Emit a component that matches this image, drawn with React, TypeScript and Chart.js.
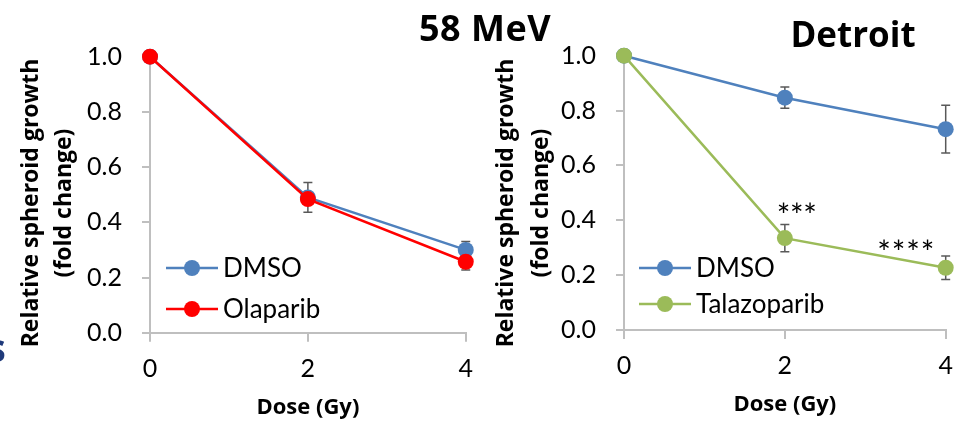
import React, { useEffect, useRef } from 'react';
import { Chart, registerables } from 'chart.js';

Chart.register(...registerables);

// ---- data ----
const doses = [0, 2, 4];
const yMin = 0;
const yMax = 1.0;
const yStep = 0.2;
const xStep = 2;

const leftDmso = [1.0, 0.49, 0.30];
const leftDmsoErr = [0, 0.054, 0.03];
const olaparib = [1.0, 0.484, 0.257];
const olaparibErr = [0, 0, 0.03];

const rightDmso = [1.0, 0.847, 0.732];
const rightDmsoErr = [0, 0.039, 0.087];
const talazoparib = [1.0, 0.335, 0.227];
const talazoparibErr = [0, 0.05, 0.043];
const talazoparibStars = ['', '***', '****'];

const yTitleLines = ['Relative spheroid growth', '(fold change)'];
const xTitle = 'Dose (Gy)';
const leftTitle = '58 MeV';
const rightTitle = 'Detroit';

const BLUE = '#4F81BD';
const RED = '#FF0000';
const GREEN = '#9BBB59';
const AXIS = '#BFBFBF';
const ERR = '#595959';
const BODY_FONT = 'Lato, "Open Sans", sans-serif';
const BOLD_FONT = '"Open Sans", Lato, sans-serif';

type PanelCfg = {
  width: number;
  height: number;
  area: { left: number; right: number; top: number; bottom: number };
  series: { label: string; data: number[]; err: number[]; color: string; stars?: string[]; starOffsets?: number[][] }[];
  yTitleX: number[];
  yTitleY: number;
  xTitleY: number;
  legend: { x1: number; x2: number; ys: number[] };
};

const annotPlugin = {
  id: 'annot',
  beforeDatasetsDraw(chart: any, _args: any, opts: any) {
    const cfg: PanelCfg = opts.cfg;
    const ctx = chart.ctx;
    const xs = chart.scales.x;
    const ys = chart.scales.y;
    ctx.save();
    ctx.strokeStyle = ERR;
    ctx.lineWidth = 1.5;
    cfg.series.forEach((s) => {
      s.data.forEach((v, i) => {
        const e = s.err[i];
        if (!e) return;
        const px = xs.getPixelForValue(doses[i]);
        const top = ys.getPixelForValue(v + e);
        const bot = ys.getPixelForValue(v - e);
        ctx.beginPath();
        ctx.moveTo(px, top);
        ctx.lineTo(px, bot);
        ctx.moveTo(px - 4.5, top);
        ctx.lineTo(px + 4.5, top);
        ctx.moveTo(px - 4.5, bot);
        ctx.lineTo(px + 4.5, bot);
        ctx.stroke();
      });
    });
    ctx.restore();
  },
  afterDraw(chart: any, _args: any, opts: any) {
    const cfg: PanelCfg = opts.cfg;
    const ctx = chart.ctx;
    const xs = chart.scales.x;
    const ys = chart.scales.y;
    ctx.save();
    // y title
    ctx.fillStyle = '#000';
    ctx.font = `bold 23px ${BOLD_FONT}`;
    ctx.textAlign = 'center';
    ctx.textBaseline = 'middle';
    yTitleLines.forEach((line, i) => {
      ctx.save();
      ctx.translate(cfg.yTitleX[i], cfg.yTitleY);
      ctx.rotate(-Math.PI / 2);
      ctx.fillText(line, 0, 0);
      ctx.restore();
    });
    // x title
    ctx.font = `bold 22px ${BOLD_FONT}`;
    ctx.fillText(xTitle, (chart.chartArea.left + chart.chartArea.right) / 2, cfg.xTitleY);
    // legend
    cfg.series.forEach((s, i) => {
      const y = cfg.legend.ys[i];
      ctx.strokeStyle = s.color;
      ctx.lineWidth = 2.5;
      ctx.beginPath();
      ctx.moveTo(cfg.legend.x1, y);
      ctx.lineTo(cfg.legend.x2, y);
      ctx.stroke();
      ctx.fillStyle = s.color;
      ctx.beginPath();
      ctx.arc((cfg.legend.x1 + cfg.legend.x2) / 2, y, 8, 0, Math.PI * 2);
      ctx.fill();
      ctx.fillStyle = '#000';
      ctx.font = `26px ${BODY_FONT}`;
      ctx.textAlign = 'left';
      ctx.textBaseline = 'middle';
      ctx.fillText(s.label, cfg.legend.x2 + 5, y + 1);
    });
    // significance stars
    cfg.series.forEach((s) => {
      if (!s.stars) return;
      s.stars.forEach((st, i) => {
        if (!st) return;
        const off = s.starOffsets ? s.starOffsets[i] : [0, 0, 14];
        const cx = xs.getPixelForValue(doses[i]) + off[0];
        const cy = ys.getPixelForValue(s.data[i] + s.err[i]) + off[1];
        ctx.fillStyle = '#000';
        ctx.font = `32px ${BODY_FONT}`;
        ctx.textAlign = 'center';
        ctx.textBaseline = 'middle';
        const sp = off[2];
        const n = st.length;
        for (let k = 0; k < n; k++) {
          ctx.fillText(st[k], cx + (k - (n - 1) / 2) * sp, cy + 6);
        }
      });
    });
    ctx.restore();
  },
};

function Panel({ cfg, left }: { cfg: PanelCfg; left: number }) {
  const ref = useRef<HTMLCanvasElement | null>(null);
  useEffect(() => {
    if (!ref.current) return;
    const a = cfg.area;
    const chart = new Chart(ref.current, {
      type: 'line',
      data: {
        datasets: cfg.series.map((s, i) => ({
          label: s.label,
          data: s.data.map((v, k) => ({ x: doses[k], y: v })),
          borderColor: s.color,
          backgroundColor: s.color,
          pointBackgroundColor: s.color,
          pointBorderColor: s.color,
          pointBorderWidth: 0,
          pointRadius: 8,
          borderWidth: 2.5,
          tension: 0,
          clip: false,
          order: cfg.series.length - i,
        })),
      },
      options: {
        responsive: false,
        animation: false,
        events: [],
        layout: {
          padding: { left: 0, top: a.top, right: cfg.width - a.right, bottom: 0 },
        },
        plugins: {
          legend: { display: false },
          tooltip: { enabled: false },
          title: { display: false },
          annot: { cfg },
        } as any,
        scales: {
          x: {
            type: 'linear',
            min: doses[0],
            max: doses[doses.length - 1],
            ticks: {
              stepSize: xStep,
              color: '#000',
              font: { family: BODY_FONT, size: 25 },
              padding: 12,
            },
            grid: { drawOnChartArea: false, drawTicks: true, tickLength: 9, color: AXIS, lineWidth: 2 },
            border: { display: true, color: AXIS, width: 2 },
            afterFit: (scale: any) => {
              scale.height = cfg.height - a.bottom;
            },
          },
          y: {
            min: yMin,
            max: yMax,
            ticks: {
              stepSize: yStep,
              color: '#000',
              font: { family: BODY_FONT, size: 25 },
              padding: 20,
              callback: (v: any) => Number(v).toFixed(1),
            },
            grid: { drawOnChartArea: false, drawTicks: true, tickLength: 8, color: AXIS, lineWidth: 2 },
            border: { display: true, color: AXIS, width: 2 },
            afterFit: (scale: any) => {
              scale.width = a.left;
            },
          },
        },
      } as any,
      plugins: [annotPlugin],
    });
    return () => chart.destroy();
  }, []);
  return (
    <canvas
      ref={ref}
      width={cfg.width}
      height={cfg.height}
      style={{ position: 'absolute', left, top: 0, width: cfg.width, height: cfg.height }}
    />
  );
}

const leftCfg: PanelCfg = {
  width: 485,
  height: 425,
  area: { left: 150, right: 468, top: 56.7, bottom: 332.7 },
  series: [
    { label: 'DMSO', data: leftDmso, err: leftDmsoErr, color: BLUE },
    { label: 'Olaparib', data: olaparib, err: olaparibErr, color: RED },
  ],
  yTitleX: [31, 64],
  yTitleY: 203,
  xTitleY: 408,
  legend: { x1: 166, x2: 218, ys: [268, 309] },
};

const rightCfg: PanelCfg = {
  width: 488,
  height: 425,
  area: { left: 139, right: 460.7, top: 55.7, bottom: 330 },
  series: [
    { label: 'DMSO', data: rightDmso, err: rightDmsoErr, color: BLUE },
    {
      label: 'Talazoparib',
      data: talazoparib,
      err: talazoparibErr,
      color: GREEN,
      stars: talazoparibStars,
      starOffsets: [[0, 0, 14], [12, -14, 13.3], [-40, -8, 14.5]],
    },
  ],
  yTitleX: [21, 56],
  yTitleY: 203,
  xTitleY: 405,
  legend: { x1: 154, x2: 206, ys: [268, 304] },
};

export default function App() {
  return (
    <div style={{ position: 'fixed', left: 0, top: 0, width: 973, height: 425, background: '#fff', overflow: 'hidden' }}>
      <Panel cfg={leftCfg} left={0} />
      <Panel cfg={rightCfg} left={485} />
      <div
        style={{
          position: 'absolute',
          left: 385,
          width: 200,
          top: 6,
          textAlign: 'center',
          font: `bold 36px ${BOLD_FONT}`,
          letterSpacing: '0.5px',
          lineHeight: '44px',
          color: '#000',
        }}
      >
        {leftTitle}
      </div>
      <div
        style={{
          position: 'absolute',
          left: 753,
          width: 200,
          top: 12,
          textAlign: 'center',
          font: `bold 35px ${BOLD_FONT}`,
          lineHeight: '44px',
          color: '#000',
        }}
      >
        {rightTitle}
      </div>
      <div
        style={{
          position: 'absolute',
          left: -14,
          top: 322,
          font: `bold 40px ${BOLD_FONT}`,
          lineHeight: '50px',
          color: '#1F3A7A',
        }}
      >
        s
      </div>
    </div>
  );
}
